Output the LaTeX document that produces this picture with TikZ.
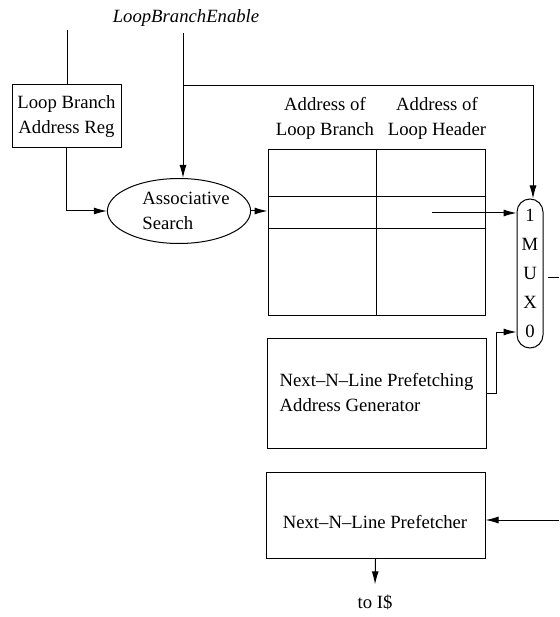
\documentclass[tikz,border=0pt]{standalone}
\usepackage{fontspec}
\setmainfont{Liberation Serif}
\usetikzlibrary{arrows.meta,shapes.geometric}
\newcommand\dfont{\fontsize{18.7}{25}\selectfont}
\begin{document}
\begin{tikzpicture}[x=1pt,y=-1pt,
  every node/.style={font=\dfont},
  ln/.style={line width=1pt},
  arr/.style={ln,-{Latex[length=13pt,width=7pt]}},
  box/.style={draw,ln,rectangle,inner sep=0pt},
  lbl/.style={align=center,inner sep=0pt}]
\useasboundingbox (0,0) rectangle (559,617);

% texts and nodes
\node[lbl,font=\dfont\itshape] (en) at (186,18) {LoopBranchEnable};
\coordinate (enS) at (183,33);
\coordinate (jn) at (183,86);
\coordinate (lbT) at (67,30);
\node[box,minimum width=109pt,minimum height=63pt,align=center] (lb) at (66.5,116.5) {Loop Branch\\Address Reg};
\node[draw,ln,ellipse,minimum width=117pt,minimum height=65pt,inner sep=0pt,align=left] (as) at (179,211) {\hspace*{14pt}Associative\\\hspace*{14pt}Search};

% table
\node[box,minimum width=217pt,minimum height=165pt] (tb) at (376.5,232.5) {};
\draw[ln] (tb.north) -- (tb.south);
\coordinate (r1) at (0,197);
\coordinate (r2) at (0,229);
\draw[ln] (tb.west |- r1) -- (tb.east |- r1);
\draw[ln] (tb.west |- r2) -- (tb.east |- r2);
\node[lbl] (h1) at (325,118) {Address of\\Loop Branch};
\node[lbl] (h2) at (437,118) {Address of\\Loop Header};

% mux
\node[draw,ln,rounded corners=13pt,minimum width=26pt,minimum height=149pt,inner sep=0pt,align=center,font=\fontsize{18.7}{29}\selectfont] (mux) at (530,273.5) {1\\M\\U\\X\\0};

% generator and prefetcher
\node[box,minimum width=219pt,minimum height=110pt,align=left] (gn) at (376.5,393) {Next–N–Line Prefetching\\Address Generator};
\node[box,minimum width=219pt,minimum height=86pt] (pf) at (375.5,515.5) {};
\node[lbl] (pft) at (375,522) {Next–N–Line Prefetcher};
\node[lbl] (ti) at (375,602) {to I\$};

% connectors
\draw[ln] (lbT) -- (lbT |- lb.north);
\draw[arr] (lb.south) |- (as.west);
\draw[arr] (enS) -- (enS |- as.north);
\draw[arr] (jn) -| ([xshift=3pt]mux.north);
\draw[arr] (as.east) -- (as.east -| tb.west);
\coordinate (hs) at (432,213);
\draw[arr] (hs) -- (hs -| mux.west);
\coordinate (oL) at (548,277);
\coordinate (oR) at (559,277);
\draw[ln] (oL) -- (oR);
\coordinate (m0) at (0,332);
\draw[arr] (gn.east) -- ++(10,0) |- (mux.west |- m0);
\coordinate (pR) at (559,520);
\draw[arr] (pR) -- (pR -| pf.east);
\draw[arr] (pf.south) -- ([yshift=10pt]ti.north);
\end{tikzpicture}
\end{document}
